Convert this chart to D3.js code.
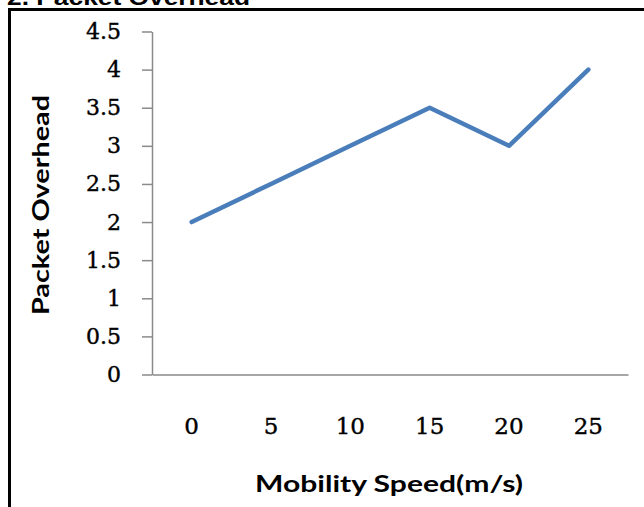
<!DOCTYPE html>
<html>
<head>
<meta charset="utf-8">
<script src="https://cdn.jsdelivr.net/npm/d3@7"></script>
<style>
  html, body { margin: 0; padding: 0; background: #fff; }
  svg { display: block; }
</style>
</head>
<body>
<svg id="chart" width="644" height="507"></svg>
<script>
// Packet overhead measured at each mobility speed
const speeds = ["0", "5", "10", "15", "20", "25"];
const overhead = [2, 2.5, 3, 3.5, 3, 4];
const yTicks = [0, 0.5, 1, 1.5, 2, 2.5, 3, 3.5, 4, 4.5];
const yTickLabels = ["0", "0.5", "1", "1.5", "2", "2.5", "3", "3.5", "4", "4.5"];

const svg = d3.select("#chart");

// Section heading, mostly above the frame
svg.append("text")
  .attr("x", 7).attr("y", 5)
  .attr("font-family", "Liberation Sans, Arial, sans-serif")
  .attr("font-weight", "bold")
  .attr("font-size", 22)
  .attr("textLength", 243)
  .attr("lengthAdjust", "spacingAndGlyphs")
  .text("2. Packet Overhead");

// Outer frame (continues past the right and bottom edges)
svg.append("rect")
  .attr("x", 9.5).attr("y", 9.5)
  .attr("width", 700).attr("height", 600)
  .attr("fill", "none")
  .attr("stroke", "#000")
  .attr("stroke-width", 3);

const x = d3.scaleBand().domain(speeds).range([152, 628]).padding(0);
const y = d3.scaleLinear().domain([0, 4.5]).range([374.5, 31.5]);

const axisColor = "#8a8a8a";

// Y axis
const gy = svg.append("g").attr("transform", "translate(152,0)")
  .call(d3.axisLeft(y)
    .tickValues(yTicks)
    .tickFormat((d, i) => yTickLabels[i])
    .tickSize(10)
    .tickSizeOuter(0)
    .tickPadding(21));
gy.selectAll("path, line").attr("stroke", axisColor).attr("stroke-width", 1.5);
gy.selectAll("text")
  .attr("font-family", "DejaVu Serif, serif")
  .attr("font-size", 22)
  .attr("fill", "#000")
  .attr("stroke", "#000")
  .attr("stroke-width", 0.4);

// X axis
const gx = svg.append("g").attr("transform", "translate(0,374.5)")
  .call(d3.axisBottom(x).tickSize(0).tickSizeOuter(0).tickPadding(43));
gx.selectAll("path, line").attr("stroke", axisColor).attr("stroke-width", 1.5);
gx.selectAll("text")
  .attr("font-family", "DejaVu Serif, serif")
  .attr("font-size", 23)
  .attr("fill", "#000")
  .attr("stroke", "#000")
  .attr("stroke-width", 0.4);

// Axis titles
svg.append("text")
  .attr("x", 389).attr("y", 492)
  .attr("text-anchor", "middle")
  .attr("font-family", "Lato, sans-serif")
  .attr("font-weight", "bold")
  .attr("font-size", 22)
  .attr("textLength", 268)
  .attr("lengthAdjust", "spacingAndGlyphs")
  .text("Mobility Speed(m/s)");

svg.append("text")
  .attr("transform", "translate(49,205) rotate(-90)")
  .attr("text-anchor", "middle")
  .attr("font-family", "Lato, sans-serif")
  .attr("font-weight", "bold")
  .attr("font-size", 23)
  .attr("textLength", 220)
  .attr("lengthAdjust", "spacingAndGlyphs")
  .text("Packet Overhead");

// Data line
const line = d3.line()
  .x((d, i) => x(speeds[i]) + x.bandwidth() / 2)
  .y(d => y(d));

svg.append("path")
  .datum(overhead)
  .attr("d", line)
  .attr("fill", "none")
  .attr("stroke", "#4a7ebb")
  .attr("stroke-width", 4.5)
  .attr("stroke-linejoin", "round")
  .attr("stroke-linecap", "round");
</script>
</body>
</html>
